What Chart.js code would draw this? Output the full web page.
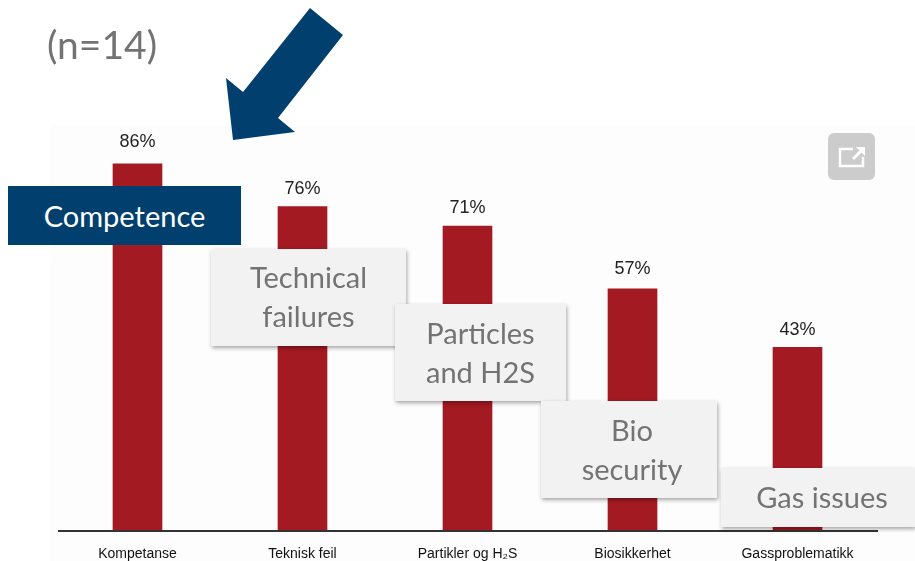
<!DOCTYPE html>
<html>
<head>
<meta charset="utf-8">
<script src="https://cdn.jsdelivr.net/npm/chart.js@4"></script>
<style>
  html, body { margin: 0; padding: 0; background: #fff; }
  #wrap { position: relative; width: 915px; height: 561px; overflow: hidden; }
  #plotBg { position: absolute; left: 50px; top: 125px; width: 865px; height: 436px; background: #fdfdfd; }
  #chart { position: absolute; left: 0; top: 0; }
  .note { position: absolute; display: flex; align-items: center; justify-content: center; text-align: center; box-sizing: border-box;
    font-family: Lato, sans-serif; font-size: 29px; line-height: 39px; color: #737373; background: #f2f2f2;
    box-shadow: 1px 2px 4px rgba(0,0,0,0.35); }
  #nLabel { position: absolute; left: 47px; top: 20px; font-family: Lato, sans-serif; font-size: 39px; line-height: 48px; color: #737373; }
  #overlay { position: absolute; left: 0; top: 0; }
</style>
</head>
<body>
<div id="wrap">
  <div id="plotBg"></div>
  <canvas id="chart" width="915" height="561"></canvas>
  <div id="nLabel">(n=14)</div>
  <svg id="overlay" width="915" height="561">
    <polygon points="310,8 343,35 278,118 295,132 233,140 226,78 243,92" fill="#003f6e"/>
    <rect x="828" y="133" width="47" height="47" rx="6" fill="#cccccc"/>
    <path d="M853 149 H840 V166 H863 V157" fill="none" stroke="#fff" stroke-width="2.5"/>
    <path d="M853 159 L862 150" fill="none" stroke="#fff" stroke-width="3"/>
    <polygon points="856,147 865,147 865,156" fill="#fff"/>
  </svg>
  <div class="note" style="left:8px;top:186px;width:233px;height:59px;background:#003f6e;color:#fff;box-shadow:none;">Competence</div>
  <div class="note" style="left:211px;top:249px;width:195px;height:97px;padding-bottom:3px;">Technical<br>failures</div>
  <div class="note" style="left:395px;top:304px;width:171px;height:97px;padding-bottom:1px;">Particles<br>and H2S</div>
  <div class="note" style="left:541px;top:401px;width:176px;height:97px;padding-bottom:2px;padding-left:6px;">Bio<br>security</div>
  <div class="note" style="left:721px;top:468px;width:194px;height:59px;padding-bottom:2px;padding-left:8px;">Gas issues</div>
</div>
<script>
// Chart data
const categories = ['Kompetanse', 'Teknisk feil', 'Partikler og H₂S', 'Biosikkerhet', 'Gassproblematikk'];
const percentValues = [86, 76, 71.4, 56.7, 43];

// Draw the % label above each bar
const barLabels = {
  id: 'barLabels',
  afterDatasetsDraw(chart, args, opts) {
    const ctx = chart.ctx;
    const bars = chart.getDatasetMeta(0).data;
    ctx.save();
    ctx.font = '18px "Liberation Sans", sans-serif';
    ctx.fillStyle = '#222222';
    ctx.textAlign = 'center';
    ctx.textBaseline = 'bottom';
    bars.forEach((bar, i) => {
      ctx.fillText(Math.round(percentValues[i]) + '%', bar.x, bar.y - opts.gaps[i]);
    });
    ctx.restore();
  }
};

// Baseline is a bit shorter than the plot area in the original
const baseLine = {
  id: 'baseLine',
  afterDraw(chart) {
    const ctx = chart.ctx;
    const area = chart.chartArea;
    ctx.save();
    ctx.strokeStyle = '#333333';
    ctx.lineWidth = 2;
    ctx.beginPath();
    ctx.moveTo(area.left + 3, area.bottom);
    ctx.lineTo(area.right - 2, area.bottom);
    ctx.stroke();
    ctx.restore();
  }
};

new Chart(document.getElementById('chart').getContext('2d'), {
  type: 'bar',
  data: {
    labels: categories,
    datasets: [{
      data: percentValues,
      backgroundColor: '#a31a22',
      barThickness: 49
    }]
  },
  options: {
    responsive: false,
    animation: false,
    layout: { padding: { left: 55, right: 35, top: 104, bottom: 0 } },
    plugins: {
      legend: { display: false },
      tooltip: { enabled: false },
      barLabels: { gaps: [13, 8, 9, 11, 8] }
    },
    scales: {
      x: {
        afterFit(axis) { axis.height = 30; },
        grid: { display: false, drawTicks: false },
        border: { display: false },
        ticks: {
          autoSkip: false,
          maxRotation: 0,
          padding: 15,
          color: '#111111',
          font: { family: '"Liberation Sans", sans-serif', size: 14 }
        }
      },
      y: {
        display: false,
        min: 0,
        max: 100
      }
    }
  },
  plugins: [barLabels, baseLine]
});
</script>
</body>
</html>
